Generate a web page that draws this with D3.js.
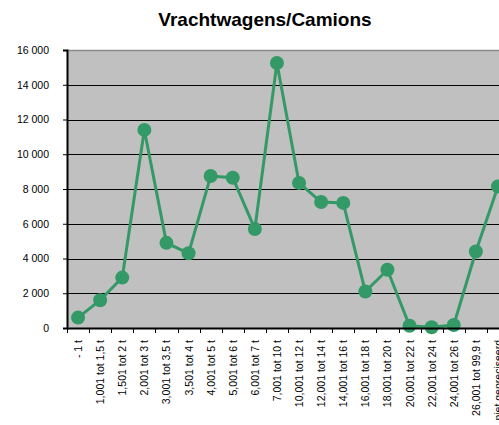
<!DOCTYPE html>
<html>
<head>
<meta charset="utf-8">
<script src="https://cdn.jsdelivr.net/npm/d3@7"></script>
<style>
  html, body { margin: 0; padding: 0; background: #fff; overflow: hidden; }
  svg { display: block; font-family: Arial, "Liberation Sans", sans-serif; }
</style>
</head>
<body>
<div id="wrapper"></div>
<script>
'use strict';

//#region DATA
const categories = [
  '- 1 t', '1,001 tot 1,5 t', '1,501 tot 2 t', '2,001 tot 3 t', '3,001 tot 3,5 t',
  '3,501 tot 4 t', '4,001 tot 5 t', '5,001 tot 6 t', '6,001 tot 7 t', '7,001 tot 10 t',
  '10,001 tot 12 t', '12,001 tot 14 t', '14,001 tot 16 t', '16,001 tot 18 t', '18,001 tot 20 t',
  '20,001 tot 22 t', '22,001 tot 24 t', '24,001 tot 26 t', '26,001 tot 99,9 t', 'niet gepreciseerd'
];
const values = [
  600, 1600, 2900, 11400, 4900,
  4300, 8750, 8650, 5700, 15250,
  8350, 7250, 7200, 2100, 3350,
  130, 40, 170, 4400, 8150
];
const yTicks = [0, 2000, 4000, 6000, 8000, 10000, 12000, 14000, 16000];
const title = 'Vrachtwagens/Camions';
//#endregion DATA

//#region CHART DIMENSIONS
let dimensions = {
  width: 499,
  height: 425,
  margin: {top: 50, right: -10, bottom: 97, left: 67}
};
dimensions.plotWidth = dimensions.width - dimensions.margin.left - dimensions.margin.right;
dimensions.plotHeight = dimensions.height - dimensions.margin.top - dimensions.margin.bottom;
//#endregion CHART DIMENSIONS

//#region DRAW CANVAS
const wrapper = d3.select('#wrapper')
  .append('svg')
  .attr('width', dimensions.width)
  .attr('height', dimensions.height);

const plot = wrapper.append('g')
  .attr('transform', `translate(${dimensions.margin.left}, ${dimensions.margin.top})`);
//#endregion DRAW CANVAS

//#region SCALES
const xScale = d3.scaleBand()
  .domain(categories)
  .range([0, dimensions.plotWidth])
  .padding(0);
const yScale = d3.scaleLinear()
  .domain([0, 16000])
  .range([dimensions.plotHeight, 0]);
//#endregion SCALES

//#region PLOT BACKGROUND
plot.append('rect')
  .attr('width', dimensions.plotWidth)
  .attr('height', dimensions.plotHeight)
  .attr('fill', '#c0c0c0');

plot.append('g')
  .selectAll('line')
  .data(yTicks.filter(d => d > 0 && d < 16000))
  .join('line')
  .attr('x1', 0)
  .attr('x2', dimensions.plotWidth)
  .attr('y1', d => Math.round(yScale(d)) + 0.5)
  .attr('y2', d => Math.round(yScale(d)) + 0.5)
  .attr('stroke', '#000')
  .attr('stroke-width', 1);

// top border is grey
plot.append('line')
  .attr('x1', 0)
  .attr('x2', dimensions.plotWidth)
  .attr('y1', 0.5)
  .attr('y2', 0.5)
  .attr('stroke', '#8a8a8a')
  .attr('stroke-width', 1.5);
//#endregion PLOT BACKGROUND

//#region DRAW DATA
const fmt = d3.format(',');
const lineGenerator = d3.line()
  .x((d, i) => xScale(categories[i]) + xScale.bandwidth() / 2)
  .y(d => yScale(d));

plot.append('path')
  .datum(values)
  .attr('d', lineGenerator)
  .attr('fill', 'none')
  .attr('stroke', '#339966')
  .attr('stroke-width', 3);

plot.append('g')
  .selectAll('circle')
  .data(values)
  .join('circle')
  .attr('cx', (d, i) => xScale(categories[i]) + xScale.bandwidth() / 2)
  .attr('cy', d => yScale(d))
  .attr('r', 7)
  .attr('fill', '#339966');
//#endregion DRAW DATA

//#region DRAW PERIPHERALS
const yAxisGenerator = d3.axisLeft(yScale)
  .tickValues(yTicks)
  .tickSize(4)
  .tickPadding(14)
  .tickFormat(d => fmt(d).replace(/,/g, ' '));
const yAxis = plot.append('g').call(yAxisGenerator);
yAxis.select('.domain').attr('stroke', '#000').attr('stroke-width', 2);
yAxis.selectAll('.tick line').attr('stroke', '#000');
yAxis.selectAll('.tick text')
  .attr('fill', '#000')
  .style('font-size', '10.5px')
  .style('font-family', 'Arial, "Liberation Sans", sans-serif');

// category axis with ticks on band boundaries
const xAxis = plot.append('g')
  .attr('transform', `translate(0, ${dimensions.plotHeight})`);
xAxis.append('line')
  .attr('x1', 0)
  .attr('x2', dimensions.plotWidth)
  .attr('y1', 0.5)
  .attr('y2', 0.5)
  .attr('stroke', '#000')
  .attr('stroke-width', 2);
xAxis.selectAll('.boundary')
  .data(categories.concat(['end']))
  .join('line')
  .attr('class', 'boundary')
  .attr('x1', (d, i) => Math.round(i * xScale.bandwidth()) + 0.5)
  .attr('x2', (d, i) => Math.round(i * xScale.bandwidth()) + 0.5)
  .attr('y1', 0)
  .attr('y2', 5)
  .attr('stroke', '#000');
xAxis.selectAll('.label')
  .data(categories)
  .join('text')
  .attr('class', 'label')
  .attr('transform', d => `translate(${xScale(d) + xScale.bandwidth() / 2 + 4}, 12) rotate(-90)`)
  .attr('text-anchor', 'end')
  .attr('fill', '#000')
  .style('font-size', '10.5px')
  .text(d => d);

wrapper.append('text')
  .attr('x', 265)
  .attr('y', 26)
  .attr('text-anchor', 'middle')
  .attr('fill', '#000')
  .style('font-size', '19px')
  .style('font-weight', 'bold')
  .text(title);
//#endregion DRAW PERIPHERALS
</script>
</body>
</html>
